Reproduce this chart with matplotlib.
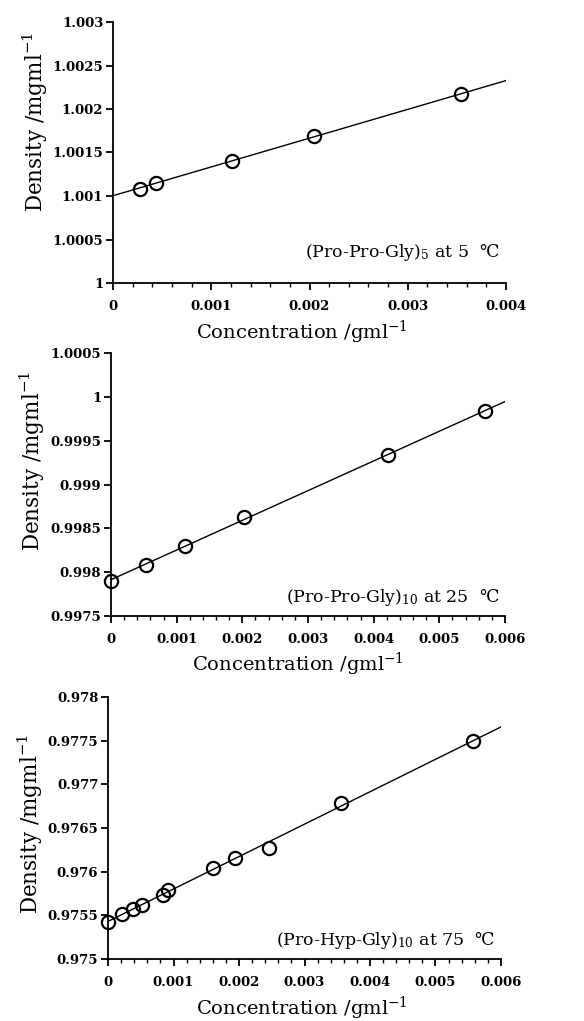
import numpy as np
import matplotlib
matplotlib.use("Agg")
import matplotlib.pyplot as plt
from matplotlib.ticker import MultipleLocator

plt.rcParams['font.family'] = ['DejaVu Serif']
plt.rcParams['mathtext.fontset'] = 'dejavuserif'

# Panel 1: (Pro-Pro-Gly)5 at 5 C
conc1 = [0.000278, 0.000434, 0.00121, 0.00205, 0.003546]
dens1 = [1.001084, 1.001153, 1.001408, 1.001687, 1.002172]
# Panel 2: (Pro-Pro-Gly)10 at 25 C
conc2 = [0.0, 0.000533, 0.001132, 0.002025, 0.004223, 0.005695]
dens2 = [0.997897, 0.998087, 0.998304, 0.998630, 0.999341, 0.999834]
# Panel 3: (Pro-Hyp-Gly)10 at 75 C
conc3 = [0.0, 0.000214, 0.000381, 0.000513, 0.000839, 0.000915,
         0.001601, 0.001942, 0.002461, 0.003554, 0.005567]
dens3 = [0.975424, 0.975511, 0.975576, 0.975622, 0.975737, 0.975786,
         0.976046, 0.976160, 0.976267, 0.976786, 0.977496]

labels = [r"(Pro-Pro-Gly)$_{5}$ at 5  ℃",
          r"(Pro-Pro-Gly)$_{10}$ at 25  ℃",
          r"(Pro-Hyp-Gly)$_{10}$ at 75  ℃"]
xlims = [(0, 0.004), (0, 0.006), (0, 0.006)]
ylims = [(1.0, 1.003), (0.9975, 1.0005), (0.975, 0.978)]
xtick_labels = [["0", "0.001", "0.002", "0.003", "0.004"],
                ["0", "0.001", "0.002", "0.003", "0.004", "0.005", "0.006"],
                ["0", "0.001", "0.002", "0.003", "0.004", "0.005", "0.006"]]
ytick_labels = [["1", "1.0005", "1.001", "1.0015", "1.002", "1.0025", "1.003"],
                ["0.9975", "0.998", "0.9985", "0.999", "0.9995", "1", "1.0005"],
                ["0.975", "0.9755", "0.976", "0.9765", "0.977", "0.9775", "0.978"]]

W, H = 584, 1021
fig = plt.figure(figsize=(W / 100, H / 100), dpi=100)
# axes boxes in pixels: left, right, top, bottom
boxes = [(113, 506, 22, 283), (111, 505, 353, 616), (108, 501, 697, 959)]
ylab_pos = [(-0.198, 0.617), (-0.20, 0.589), (-0.198, 0.515)]
xlab_pos = [(0.48, -0.19), (0.475, -0.183), (0.494, -0.187)]
ann_pos = [0.115, 0.072, 0.072]

data = [(conc1, dens1), (conc2, dens2), (conc3, dens3)]
for i, ((cx, dy), box) in enumerate(zip(data, boxes)):
    l, r, t, b = box
    ax = fig.add_axes([l / W, 1 - b / H, (r - l) / W, (b - t) / H])
    x = np.array(cx); y = np.array(dy)
    k, c = np.polyfit(x, y, 1)
    xx = np.array(xlims[i])
    ax.plot(xx, k * xx + c, color='black', lw=1.0, zorder=2)
    ax.plot(x, y, 'o', mfc='none', mec='black', ms=9.5, mew=1.6, zorder=3, clip_on=False)
    ax.set_xlim(*xlims[i])
    ax.set_ylim(*ylims[i])
    ax.xaxis.set_minor_locator(MultipleLocator(0.0002))
    xt = xtick_labels[i]; yt = ytick_labels[i]
    ax.set_xticks(np.linspace(xlims[i][0], xlims[i][1], len(xt)))
    ax.set_xticklabels(xt)
    ax.set_yticks(np.linspace(ylims[i][0], ylims[i][1], len(yt)))
    ax.set_yticklabels(yt)
    for s in ['top', 'right']:
        ax.spines[s].set_visible(False)
    for s in ['left', 'bottom']:
        ax.spines[s].set_linewidth(1.3)
    ax.tick_params(axis='both', which='major', direction='out', length=5, width=1.3,
                   labelsize=9.5)
    ax.tick_params(axis='x', which='minor', direction='out', length=3, width=1.0)
    for lab in ax.get_xticklabels() + ax.get_yticklabels():
        lab.set_fontweight('bold')
    ax.tick_params(axis='x', pad=7)
    ax.tick_params(axis='y', pad=2)
    ax.set_xlabel(r"Concentration /gml$^{\mathregular{-1}}$", fontsize=14)
    ax.xaxis.label.set_va('center')
    ax.xaxis.set_label_coords(*xlab_pos[i])
    ax.set_ylabel(r"Density /mgml$^{\mathregular{-1}}$", fontsize=15.5)
    ax.yaxis.label.set_va('center')
    ax.yaxis.set_label_coords(*ylab_pos[i])
    ax.text(0.985, ann_pos[i], labels[i], transform=ax.transAxes, ha='right', va='center',
            fontsize=12.5)

fig.savefig("out.png", dpi=100)
